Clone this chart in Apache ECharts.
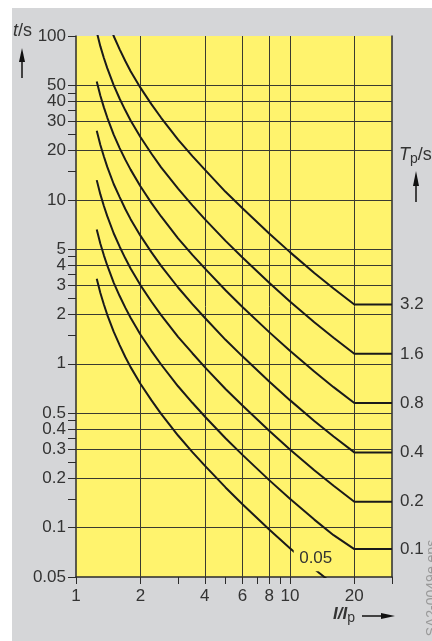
<!DOCTYPE html>
<html>
<head>
<meta charset="utf-8">
<script src="https://cdn.jsdelivr.net/npm/echarts@6/dist/echarts.min.js"></script>
<style>
  html, body { margin: 0; padding: 0; background: #ffffff; }
  #chart { width: 432px; height: 641px; }
</style>
</head>
<body>
<div id="chart"></div>
<script>
// Current multiple I/Ip at which the trip times are tabulated
const ratio = [1.25, 1.3, 1.35, 1.4, 1.5, 1.6, 1.7, 1.8, 2, 2.25, 2.5, 3, 3.5, 4, 5, 6, 8, 10, 13, 16, 20, 30];

// Time multiplier settings Tp/s (one curve each)
const tpNames = ['3.2', '1.6', '0.8', '0.4', '0.2', '0.1', '0.05'];

// Trip time t/s for each Tp at the ratios above
const tTp32  = [211, 173, 147, 127, 100, 82.9, 70.4, 61.0, 48.4, 38.4, 31.7, 23.3, 18.5, 15.3, 11.2, 8.9, 6.23, 4.8, 3.58, 2.88, 2.3, 2.3];
const tTp16  = [106, 86.4, 73.4, 63.7, 50.1, 41.4, 35.2, 30.5, 24.2, 19.2, 15.8, 11.7, 9.25, 7.63, 5.62, 4.45, 3.12, 2.4, 1.79, 1.44, 1.15, 1.15];
const tTp08  = [52.8, 43.2, 36.7, 31.8, 25.0, 20.7, 17.6, 15.3, 12.1, 9.59, 7.92, 5.83, 4.62, 3.82, 2.81, 2.22, 1.56, 1.2, 0.896, 0.72, 0.576, 0.576];
const tTp04  = [26.4, 21.6, 18.4, 15.9, 12.5, 10.4, 8.8, 7.63, 6.05, 4.8, 3.96, 2.92, 2.31, 1.91, 1.4, 1.11, 0.779, 0.6, 0.448, 0.36, 0.288, 0.288];
const tTp02  = [13.2, 10.8, 9.18, 7.96, 6.26, 5.18, 4.4, 3.81, 3.02, 2.4, 1.98, 1.46, 1.16, 0.954, 0.702, 0.556, 0.39, 0.3, 0.224, 0.18, 0.144, 0.144];
const tTp01  = [6.6, 5.4, 4.59, 3.98, 3.13, 2.59, 2.2, 1.91, 1.51, 1.2, 0.99, 0.729, 0.578, 0.477, 0.351, 0.278, 0.195, 0.15, 0.112, 0.09, 0.074, 0.074];
const tTp005 = [3.3, 2.7, 2.3, 1.99, 1.57, 1.3, 1.1, 0.954, 0.756, 0.6, 0.495, 0.365, 0.289, 0.239, 0.176, 0.139, 0.0974, 0.075, 0.056, 0.045];
const timeSets = [tTp32, tTp16, tTp08, tTp04, tTp02, tTp01, tTp005];

// Axis ticks, labels and grid lines
const yLabelValues = [0.05, 0.1, 0.2, 0.3, 0.4, 0.5, 1, 2, 3, 4, 5, 10, 20, 30, 40, 50, 100];
const yTickValues  = [0.05, 0.1, 0.15, 0.2, 0.25, 0.3, 0.35, 0.4, 0.45, 0.5, 1, 1.5, 2, 2.5, 3, 3.5, 4, 4.5, 5,
                      10, 15, 20, 25, 30, 35, 40, 45, 50, 100];
const yGridValues  = [0.1, 0.2, 0.3, 0.4, 0.5, 1, 2, 3, 4, 5, 10, 20, 30, 40, 50];
const xLabelValues = [1, 2, 4, 6, 8, 10, 20];
const xTickValues  = [1, 2, 3, 4, 5, 6, 7, 8, 9, 10, 20, 30];
const xGridValues  = [2, 4, 6, 8, 10, 20];

// Position of the boxed "0.05" tag on the lowest curve
const tagTp005 = [13.2, 0.065];

const FONT = '"Liberation Sans", Arial, Helvetica, sans-serif';
const INK = '#2b2b2b';
const TEXT = '#333333';
const YELLOW = '#fff36d';
const PANEL = '#d5d6d8';

const fmt = v => String(Number(Number(v).toPrecision(3)));

const gridLines = [
  ...yGridValues.map(v => ({ yAxis: v })),
  ...xGridValues.map(v => ({ xAxis: v }))
];

const series = timeSets.map((vals, k) => {
  const s = {
    type: 'line',
    name: tpNames[k],
    data: vals.map((t, i) => [ratio[i], t]),
    showSymbol: false,
    symbol: 'none',
    clip: true,
    silent: true,
    z: 3,
    lineStyle: { color: '#1a1a1a', width: 2 },
    emphasis: { disabled: true }
  };
  if (k < 6) {
    s.endLabel = {
      show: true,
      formatter: tpNames[k],
      distance: 8,
      color: TEXT,
      fontSize: 17,
      fontFamily: FONT
    };
  } else {
    s.markPoint = {
      silent: true,
      symbol: 'rect',
      symbolSize: [44, 26],
      itemStyle: { color: YELLOW },
      label: { show: true, position: 'inside', formatter: tpNames[k], color: TEXT, fontSize: 17, fontFamily: FONT },
      data: [{ coord: tagTp005 }]
    };
  }
  if (k === 0) {
    s.markLine = {
      silent: true,
      symbol: ['none', 'none'],
      z: 1,
      label: { show: false },
      lineStyle: { color: '#3a3a30', width: 1, type: 'solid' },
      emphasis: { disabled: true },
      data: gridLines
    };
  }
  return s;
});

const chart = echarts.init(document.getElementById('chart'), null, { renderer: 'canvas' });

chart.setOption({
  animation: false,
  backgroundColor: PANEL,
  textStyle: { fontFamily: FONT },
  grid: {
    left: 76, top: 36, right: 40, bottom: 64,
    show: true, backgroundColor: YELLOW, borderWidth: 0,
    containLabel: false
  },
  xAxis: {
    type: 'log', logBase: 10, min: 1, max: 30,
    axisLine: { show: true, onZero: false, lineStyle: { color: INK, width: 1.5 } },
    axisTick: { show: true, length: 7, inside: false, customValues: xTickValues, lineStyle: { color: INK, width: 1 } },
    axisLabel: {
      show: true, customValues: xLabelValues, formatter: fmt,
      margin: 11, color: TEXT, fontSize: 17, fontFamily: FONT,
      showMinLabel: true, showMaxLabel: true, hideOverlap: false
    },
    splitLine: { show: false },
    minorTick: { show: false },
    minorSplitLine: { show: false }
  },
  yAxis: [
    {
      type: 'log', logBase: 10, min: 0.05, max: 100, position: 'left',
      axisLine: { show: true, onZero: false, lineStyle: { color: INK, width: 1.5 } },
      axisTick: { show: true, length: 8, inside: false, customValues: yTickValues, lineStyle: { color: INK, width: 1 } },
      axisLabel: {
        show: true, customValues: yLabelValues, formatter: fmt,
        margin: 10, color: TEXT, fontSize: 17, fontFamily: FONT,
        showMinLabel: true, showMaxLabel: true, hideOverlap: false
      },
      splitLine: { show: false },
      minorTick: { show: false },
      minorSplitLine: { show: false }
    },
    {
      type: 'log', logBase: 10, min: 0.05, max: 100, position: 'right',
      axisLine: { show: true, onZero: false, lineStyle: { color: INK, width: 1.5 } },
      axisTick: { show: false },
      axisLabel: { show: false },
      splitLine: { show: false }
    }
  ],
  graphic: [
    // white margin strips around the grey panel
    { type: 'rect', z: 100, shape: { x: 0, y: 0, width: 12, height: 641 }, style: { fill: '#ffffff' }, silent: true },
    { type: 'rect', z: 100, shape: { x: 0, y: 0, width: 432, height: 8 }, style: { fill: '#ffffff' }, silent: true },

    // t/s with upward arrow
    {
      type: 'text', x: 13, y: 31, silent: true,
      style: {
        text: '{i|t}{n|/s}', verticalAlign: 'middle', align: 'left',
        rich: {
          i: { fontStyle: 'italic', fontSize: 18, fontFamily: FONT, fill: TEXT },
          n: { fontSize: 18, fontFamily: FONT, fill: TEXT }
        }
      }
    },
    { type: 'line', silent: true, shape: { x1: 22, y1: 58, x2: 22, y2: 78 }, style: { stroke: '#111', lineWidth: 1.5 } },
    { type: 'polygon', silent: true, shape: { points: [[22, 48], [19, 62], [25, 62]] }, style: { fill: '#111' } },

    // Tp/s with upward arrow
    {
      type: 'text', x: 399, y: 155, silent: true,
      style: {
        text: '{i|T}{s|p}{n|/s}', verticalAlign: 'middle', align: 'left',
        rich: {
          i: { fontStyle: 'italic', fontSize: 18, fontFamily: FONT, fill: TEXT },
          s: { fontSize: 14, fontFamily: FONT, fill: TEXT, padding: [8, 0, 0, 0] },
          n: { fontSize: 18, fontFamily: FONT, fill: TEXT }
        }
      }
    },
    { type: 'line', silent: true, shape: { x1: 416, y1: 182, x2: 416, y2: 202 }, style: { stroke: '#111', lineWidth: 1.5 } },
    { type: 'polygon', silent: true, shape: { points: [[416, 171], [413, 186], [419, 186]] }, style: { fill: '#111' } },

    // I/Ip with rightward arrow
    {
      type: 'text', x: 333, y: 614, silent: true,
      style: {
        text: '{i|I/I}{s|p}', verticalAlign: 'middle', align: 'left',
        rich: {
          i: { fontStyle: 'italic', fontWeight: 'bold', fontSize: 17, fontFamily: FONT, fill: TEXT },
          s: { fontSize: 14, fontFamily: FONT, fill: TEXT, padding: [9, 0, 0, 0] }
        }
      }
    },
    { type: 'line', silent: true, shape: { x1: 362, y1: 616, x2: 384, y2: 616 }, style: { stroke: '#111', lineWidth: 1.5 } },
    { type: 'polygon', silent: true, shape: { points: [[395, 616], [381, 613], [381, 619]] }, style: { fill: '#111' } },

    // drawing reference along the right edge
    {
      type: 'text', x: 432, y: 592, rotation: Math.PI / 2, silent: true,
      style: { text: 'LSA2-0049e.eps', align: 'center', verticalAlign: 'middle', fontSize: 14, fontFamily: FONT, fill: '#9a9a9a' }
    }
  ],
  series: series
});
</script>
</body>
</html>
